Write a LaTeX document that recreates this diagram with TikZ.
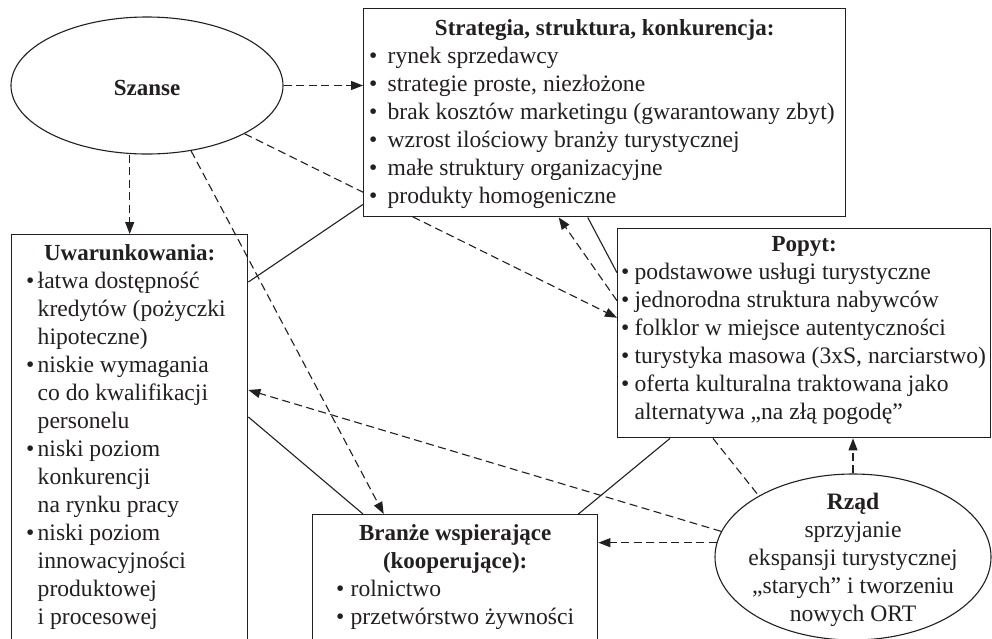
\documentclass[tikz,border=0pt]{standalone}
\usepackage{fontspec}
\setmainfont{Liberation Serif}
\usetikzlibrary{shapes.geometric,arrows.meta,backgrounds}
\definecolor{ink}{RGB}{35,31,32}

% box body: fixed-size top-aligned minipage
\newlength{\itemind}
\newcommand{\bodytext}[5]{% width, height, left pad, bullet indent, content
  \begin{minipage}[c][#2][t]{#1}\raggedright\leftskip=#3\relax
  \setlength{\itemind}{#4}#5\end{minipage}}
\newcommand{\ttl}[1]{\par{\centering\fontsize{23}{28}\selectfont\bfseries #1\par}}
\newcommand{\itm}[1]{\par\hangindent=\itemind\hangafter=1\noindent
  \makebox[\itemind][l]{\textbullet}#1\par}

\begin{document}
\begin{tikzpicture}[x=1pt,y=-1pt,
  every node/.style={text=ink, font=\fontsize{23.6}{28}\selectfont},
  frame/.style={draw=ink, line width=1.4pt, fill=white, inner sep=0pt, anchor=north west},
  oval/.style={draw=ink, line width=1.1pt, fill=white, ellipse, inner sep=0pt},
  link/.style={draw=ink, line width=1.1pt},
  dlink/.style={link, dash pattern=on 8pt off 4.5pt},
  tip/.style={-{Triangle[length=12pt,width=9pt]}},
]
\useasboundingbox (0,0) rectangle (992,638);
\begin{scope}[on background layer]
  \fill[white] (0,0) rectangle (992,638);
\end{scope}
\clip (0,0) rectangle (992,638);

% ---- nodes ----
\node[oval, minimum width=272pt, minimum height=137pt,
  label={[text=ink, font=\fontsize{23}{28}\selectfont\bfseries, yshift=-2.5pt]center:Szanse}]
  (szanse) at (147,85.5) {};

\node[frame] (strat) at (363,8) {\bodytext{482pt}{208pt}{5.5pt}{18.5pt}{%
  \vspace*{11pt}%
  \ttl{Strategia, struktura, konkurencja:}
  \itm{rynek sprzedawcy}
  \itm{strategie proste, niezłożone}
  \itm{brak kosztów marketingu (gwarantowany zbyt)}
  \itm{wzrost ilościowy branży turystycznej}
  \itm{małe struktury organizacyjne}
  \itm{produkty homogeniczne}}};

\node[frame] (uwar) at (11,234) {\bodytext{236pt}{430pt}{14.5pt}{11.5pt}{%
  \vspace*{10pt}%
  \ttl{Uwarunkowania:}
  \itm{łatwa dostępność\newline kredytów (pożyczki\newline hipoteczne)}
  \itm{niskie wymagania\newline co do kwalifikacji\newline personelu}
  \itm{niski poziom\newline konkurencji\newline na rynku pracy}
  \itm{niski poziom\newline innowacyjności\newline produktowej\newline i procesowej}}};

\node[frame] (popyt) at (617,228) {\bodytext{373pt}{209pt}{3.5pt}{13.5pt}{%
  \vspace*{8pt}%
  \ttl{Popyt:}
  \itm{podstawowe usługi turystyczne}
  \itm{jednorodna struktura nabywców}
  \itm{folklor w miejsce autentyczności}
  \itm{turystyka masowa (3xS, narciarstwo)}
  \itm{oferta kulturalna traktowana jako\newline alternatywa „na złą pogodę”}}};

\node[frame] (branze) at (312,514) {\bodytext{285pt}{150pt}{23.5pt}{14.5pt}{%
  \vspace*{10pt}%
  \ttl{Branże wspierające\\ (kooperujące):}
  \itm{rolnictwo}
  \itm{przetwórstwo żywności}}};

\node[oval, minimum width=276pt, minimum height=166pt,
  label={[align=center, text=ink, yshift=-3pt]center:{\textbf{Rząd}\\ sprzyjanie\\ ekspansji turystycznej\\ „starych” i tworzeniu\\ nowych ORT}}]
  (rzad) at (853,557) {};

% ---- connectors ----
\begin{scope}[on background layer]
  \draw[dlink, tip] (szanse) -- ([yshift=15.5pt]popyt.west);
\end{scope}

\draw[dlink, tip] (szanse.east) -- (szanse.east -| strat.west);
\draw[dlink, tip] (uwar.north |- szanse.south) -- (uwar.north);
\draw[dlink, tip] (szanse.-56) -- ([xshift=-71.5pt]branze.north);
\draw[dlink, tip] ([yshift=32.5pt]popyt.west) -- ([xshift=-46pt]strat.south);

\draw[link] ([xshift=-17pt]strat.south) -- ([yshift=60.5pt]popyt.west);
\draw[link] ([yshift=13pt]strat.south west) -- ([yshift=-48pt]uwar.north east);
\draw[link] ([yshift=-183pt]uwar.north east) -- ([xshift=51pt]branze.north west);
\draw[link] ([xshift=53pt]popyt.south west) -- ([xshift=-20pt]branze.north east);

\draw[dlink, tip] (rzad.169) -- ([yshift=-156pt]uwar.north east);
\draw[dlink, tip] (rzad.174) -- (rzad.174 -| branze.east);
\draw[dlink, tip] (rzad.north) -- (rzad.north |- popyt.south);
\draw[dlink] ([xshift=96pt]popyt.south west) -- (rzad.147);
\end{tikzpicture}
\end{document}
